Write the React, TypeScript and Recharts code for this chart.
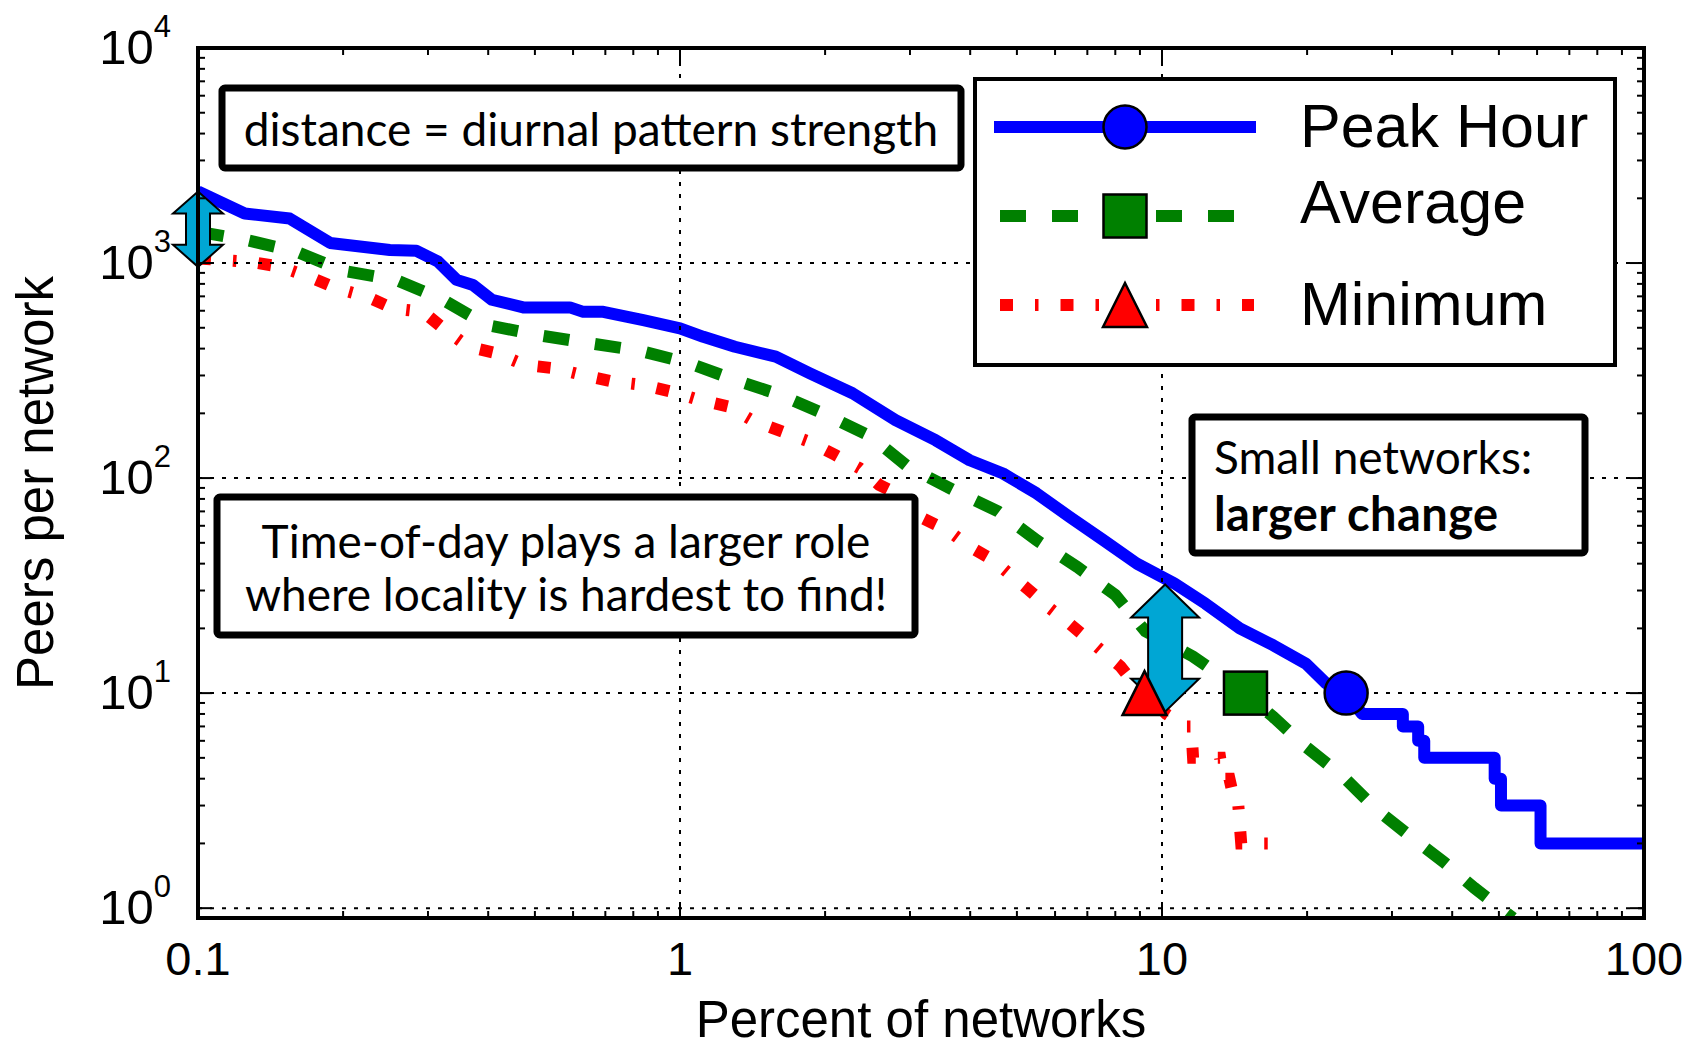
import { ComposedChart, Line, Scatter, XAxis, YAxis, ReferenceLine } from "recharts"

// Peak hour (blue, solid)
const peakPct = [
  0.1, 0.125, 0.155, 0.188, 0.25, 0.284, 0.315, 0.344, 0.372, 0.407, 0.473, 0.591, 0.63, 0.693, 0.839, 1.0,
  1.118, 1.3, 1.58, 1.86, 2.28, 2.8, 3.39, 3.99, 4.68, 5.49, 6.43, 7.55, 8.87, 10.6, 12.3, 14.5, 17.0, 19.9,
  21.9, 24.1, 26.0, 31.6, 31.6, 34.0, 34.0, 35.0, 35.0, 49.0, 49.0, 50.5, 50.5, 61.0, 61.0, 100,
]
const peakPeers = [
  2150, 1700, 1610, 1240, 1150, 1140, 1015, 835, 790, 675, 622, 622, 593, 593, 543, 497,
  454, 408, 367, 307, 248, 186, 150, 121, 105, 85, 66, 51.5, 40, 32.4, 26.1, 20, 16.7, 13.7,
  11.1, 10, 8, 8, 7, 7, 6, 6, 5, 5, 4, 4, 3, 3, 2, 2,
]

// Average (green, dashed)
const avgPct = [
  0.1, 0.126, 0.16, 0.2, 0.258, 0.323, 0.397, 0.508, 0.652, 0.826, 1.05, 1.3, 1.62, 2.02, 2.49, 2.97, 3.69,
  4.57, 5.49, 6.67, 8.0, 9.24, 11.6, 14.9, 17.0, 19.9, 23.8, 27.7, 32.8, 38.4, 44.5, 52.0, 53.5,
]
const avgPeers = [
  1400, 1280, 1130, 920, 834, 673, 515, 462, 423, 391, 341, 286, 243, 196, 156, 113, 88,
  70, 51.5, 38.6, 28.6, 19.4, 14.8, 10, 7.76, 5.62, 4.08, 2.91, 2.15, 1.64, 1.24, 0.945, 0.9,
]

// Minimum (red, dash-dot)
const minPct = [
  0.1, 0.128, 0.148, 0.17, 0.194, 0.224, 0.254, 0.293, 0.326, 0.364, 0.417, 0.476, 0.549, 0.63, 0.726, 0.84,
  0.97, 1.09, 1.26, 1.41, 1.6, 1.85, 2.1, 2.36, 2.59, 2.9, 3.19, 3.6, 3.99, 4.46, 4.9, 5.3, 5.85, 6.42, 7.2,
  8.2, 8.87, 9.3, 10.2, 11.2, 11.5, 11.6, 13.2, 13.4, 13.8, 14.2, 14.4, 14.6, 18.0,
]
const minPeers = [
  1050, 1014, 962, 863, 762, 697, 615, 593, 488, 408, 380, 336, 324, 301, 281, 271,
  251, 232, 215, 186, 167, 148, 128, 111, 93, 82, 65, 57, 48, 41.6, 34.8, 30.1, 24.8, 21.1, 17.0,
  13.3, 10.7, 10, 8, 7, 7, 5, 5, 4, 4, 3, 3, 2, 2,
]

// single highlighted marker per series, where each curve crosses 10 peers
const markerPeers = 10
const peakMarkerPct = 24.1
const avgMarkerPct = 14.9
const minMarkerPct = 9.2

// double arrows: x position, top and bottom value
const arrowPct = [0.1, 10.15]
const arrowTop = [2150, 32]
const arrowBottom = [960, 8.2]

const xMajor = [0.1, 1, 10, 100]
const xLabels = ["0.1", "1", "10", "100"]
const yMajor = [1, 10, 100, 1000, 10000]
const yExponents = ["0", "1", "2", "3", "4"]

const minorMultipliers = [2, 3, 4, 5, 6, 7, 8, 9]
const xTicks = [...xMajor, ...xMajor.slice(0, -1).flatMap((d) => minorMultipliers.map((m) => m * d))]
const yTicks = [...yMajor, ...yMajor.slice(0, -1).flatMap((d) => minorMultipliers.map((m) => m * d))]

const toRows = (xs: number[], ys: number[]) => xs.map((x, i) => ({ x, y: ys[i] }))
const peakData = toRows(peakPct, peakPeers)
const avgData = toRows(avgPct, avgPeers)
const minData = toRows(minPct, minPeers)

const W = 1703
const H = 1048
const PLOT = { left: 198, right: 1644, top: 48, bottom: 918 }
const AXIS_FONT = "'Liberation Sans', Arial, Helvetica, sans-serif"
const BOX_FONT = "Lato, 'Open Sans', sans-serif"

const BLUE = "#0000ff"
const GREEN = "#008000"
const RED = "#ff0000"
const ARROW = "#00a6d4"
const GRID_DASH = "4 8"
const GREEN_DASH = "26 26"
const RED_DASH = "13 22 3.5 22"

function XTick(props: any) {
  const { x, payload } = props
  const i = xMajor.indexOf(payload.value)
  const len = i >= 0 ? 14 : 7
  return (
    <g>
      <line x1={x} x2={x} y1={PLOT.bottom} y2={PLOT.bottom - len} stroke="#000" strokeWidth={2} />
      <line x1={x} x2={x} y1={PLOT.top} y2={PLOT.top + len} stroke="#000" strokeWidth={2} />
      {i >= 0 && (
        <text x={x} y={975} textAnchor="middle" fontFamily={AXIS_FONT} fontSize={47} fill="#000">
          {xLabels[i]}
        </text>
      )}
    </g>
  )
}

function YTick(props: any) {
  const { y, payload } = props
  const i = yMajor.indexOf(payload.value)
  const len = i >= 0 ? 14 : 7
  return (
    <g>
      <line x1={PLOT.left} x2={PLOT.left + len} y1={y} y2={y} stroke="#000" strokeWidth={2} />
      <line x1={PLOT.right - len} x2={PLOT.right} y1={y} y2={y} stroke="#000" strokeWidth={2} />
      {i >= 0 && (
        <text x={171} y={y + 16} textAnchor="end" fontFamily={AXIS_FONT} fontSize={49} fill="#000">
          <tspan>10</tspan>
          <tspan dy={-27} fontSize={31}>{yExponents[i]}</tspan>
        </text>
      )}
    </g>
  )
}

function DoubleArrow(props: any) {
  const { x1, y1, y2, head, half, shaft } = props
  const top = Math.min(y1, y2)
  const bot = Math.max(y1, y2)
  const pts = [
    [x1, top], [x1 + half, top + head], [x1 + shaft, top + head], [x1 + shaft, bot - head],
    [x1 + half, bot - head], [x1, bot], [x1 - half, bot - head], [x1 - shaft, bot - head],
    [x1 - shaft, top + head], [x1 - half, top + head],
  ]
  return <polygon points={pts.map((p) => p.join(",")).join(" ")} fill={ARROW} stroke="#000" strokeWidth={2} strokeLinejoin="miter" />
}

const circleMarker = (cx: number, cy: number) => (
  <circle cx={cx} cy={cy} r={21.5} fill={BLUE} stroke="#000" strokeWidth={2.5} />
)
const squareMarker = (cx: number, cy: number) => (
  <rect x={cx - 21.5} y={cy - 21.5} width={43} height={43} fill={GREEN} stroke="#000" strokeWidth={2.5} />
)
const triangleMarker = (cx: number, cy: number) => (
  <polygon points={`${cx},${cy - 22} ${cx + 22},${cy + 22} ${cx - 22},${cy + 22}`} fill={RED} stroke="#000" strokeWidth={2.5} />
)

function TextBox({ x, y, w, h }: { x: number; y: number; w: number; h: number }) {
  return <rect x={x} y={y} width={w} height={h} rx={3} fill="#fff" stroke="#000" strokeWidth={7} />
}

function Legend() {
  const x0 = 998
  const x1 = 1254
  const mx = 1125
  const rows = [127, 216, 305]
  return (
    <g>
      <rect x={975} y={79} width={640} height={286} fill="#fff" stroke="#000" strokeWidth={4} />
      <line x1={x0 - 4} x2={x1 + 2} y1={rows[0]} y2={rows[0]} stroke={BLUE} strokeWidth={12} />
      {circleMarker(mx, rows[0])}
      <line x1={x0 + 2} x2={x1 - 20} y1={rows[1]} y2={rows[1]} stroke={GREEN} strokeWidth={12} strokeDasharray={GREEN_DASH} />
      {squareMarker(mx, rows[1])}
      <line x1={x0 + 2} x2={x1} y1={rows[2]} y2={rows[2]} stroke={RED} strokeWidth={12} strokeDasharray={RED_DASH} />
      {triangleMarker(mx, rows[2])}
      <g fontFamily={AXIS_FONT} fontSize={61} fill="#000">
        <text x={1300} y={147}>Peak Hour</text>
        <text x={1300} y={223}>Average</text>
        <text x={1300} y={325}>Minimum</text>
      </g>
    </g>
  )
}

export default function App() {
  return (
    <div style={{ position: "fixed", left: 0, top: 0, width: W, height: H, background: "#fff" }}>
      <ComposedChart width={W} height={H} margin={{ top: PLOT.top, right: W - PLOT.right, bottom: 0, left: 0 }}>
        <XAxis
          dataKey="x"
          type="number"
          scale="log"
          domain={[0.1, 100]}
          allowDataOverflow
          ticks={xTicks}
          interval={0}
          tick={(p: any) => <XTick {...p} />}
          tickLine={false}
          axisLine={false}
          tickSize={0}
          height={H - PLOT.bottom}
        />
        <YAxis
          dataKey="y"
          type="number"
          scale="log"
          domain={[0.9, 10000]}
          allowDataOverflow
          ticks={yTicks}
          interval={0}
          tick={(p: any) => <YTick {...p} />}
          tickLine={false}
          axisLine={false}
          tickSize={0}
          width={PLOT.left}
        />
        <Line data={peakData} dataKey="y" type="linear" stroke={BLUE} strokeWidth={12} dot={false} isAnimationActive={false} strokeLinejoin="round" />
        <Line data={avgData} dataKey="y" type="linear" stroke={GREEN} strokeWidth={12} strokeDasharray={GREEN_DASH} dot={false} isAnimationActive={false} />
        <Line data={minData} dataKey="y" type="linear" stroke={RED} strokeWidth={12} strokeDasharray={RED_DASH} dot={false} isAnimationActive={false} />
        <Scatter data={[{ x: peakMarkerPct, y: markerPeers }]} isAnimationActive={false} shape={(p: any) => circleMarker(p.cx, p.cy)} />
        <Scatter data={[{ x: avgMarkerPct, y: markerPeers }]} isAnimationActive={false} shape={(p: any) => squareMarker(p.cx, p.cy)} />
        <Scatter data={[{ x: minMarkerPct, y: markerPeers }]} isAnimationActive={false} shape={(p: any) => triangleMarker(p.cx, p.cy)} />
        {xMajor.slice(1, -1).map((v) => (
          <ReferenceLine key={`gx${v}`} x={v} stroke="#000" strokeWidth={2} strokeDasharray={GRID_DASH} />
        ))}
        {yMajor.slice(0, -1).map((v) => (
          <ReferenceLine key={`gy${v}`} y={v} stroke="#000" strokeWidth={2} strokeDasharray={GRID_DASH} />
        ))}
        <ReferenceLine
          segment={[{ x: arrowPct[0], y: arrowTop[0] }, { x: arrowPct[0], y: arrowBottom[0] }]}
          ifOverflow="visible"
          shape={(p: any) => <DoubleArrow {...p} head={22} half={25} shaft={12} />}
        />
        <ReferenceLine
          segment={[{ x: arrowPct[1], y: arrowTop[1] }, { x: arrowPct[1], y: arrowBottom[1] }]}
          ifOverflow="visible"
          shape={(p: any) => <DoubleArrow {...p} head={33} half={34} shaft={17} />}
        />
      </ComposedChart>
      <svg width={W} height={H} style={{ position: "absolute", left: 0, top: 0, pointerEvents: "none" }}>
        <rect x={PLOT.left} y={PLOT.top} width={PLOT.right - PLOT.left} height={PLOT.bottom - PLOT.top} fill="none" stroke="#000" strokeWidth={4} />

        <TextBox x={222} y={88} w={739} h={80} />
        <text x={591} y={146} textAnchor="middle" fontFamily={BOX_FONT} fontSize={46} fill="#000">
          distance = diurnal pattern strength
        </text>

        <TextBox x={217} y={497} w={698} h={138} />
        <g textAnchor="middle" fontFamily={BOX_FONT} fontSize={46} fill="#000">
          <text x={566} y={558}>Time-of-day plays a larger role</text>
          <text x={566} y={611}>where locality is hardest to find!</text>
        </g>

        <TextBox x={1192} y={417} w={393} h={136} />
        <g fontFamily={BOX_FONT} fill="#000">
          <text x={1214} y={474} fontSize={46}>Small networks:</text>
          <text x={1214} y={531} fontSize={47} fontWeight="bold" letterSpacing={0.4}>larger change</text>
        </g>

        <Legend />

        <text x={921} y={1037} textAnchor="middle" fontFamily={AXIS_FONT} fontSize={51} fill="#000">
          Percent of networks
        </text>
        <text x={53} y={483} transform="rotate(-90 53 483)" textAnchor="middle" fontFamily={AXIS_FONT} fontSize={51} fill="#000">
          Peers per network
        </text>
      </svg>
    </div>
  )
}
